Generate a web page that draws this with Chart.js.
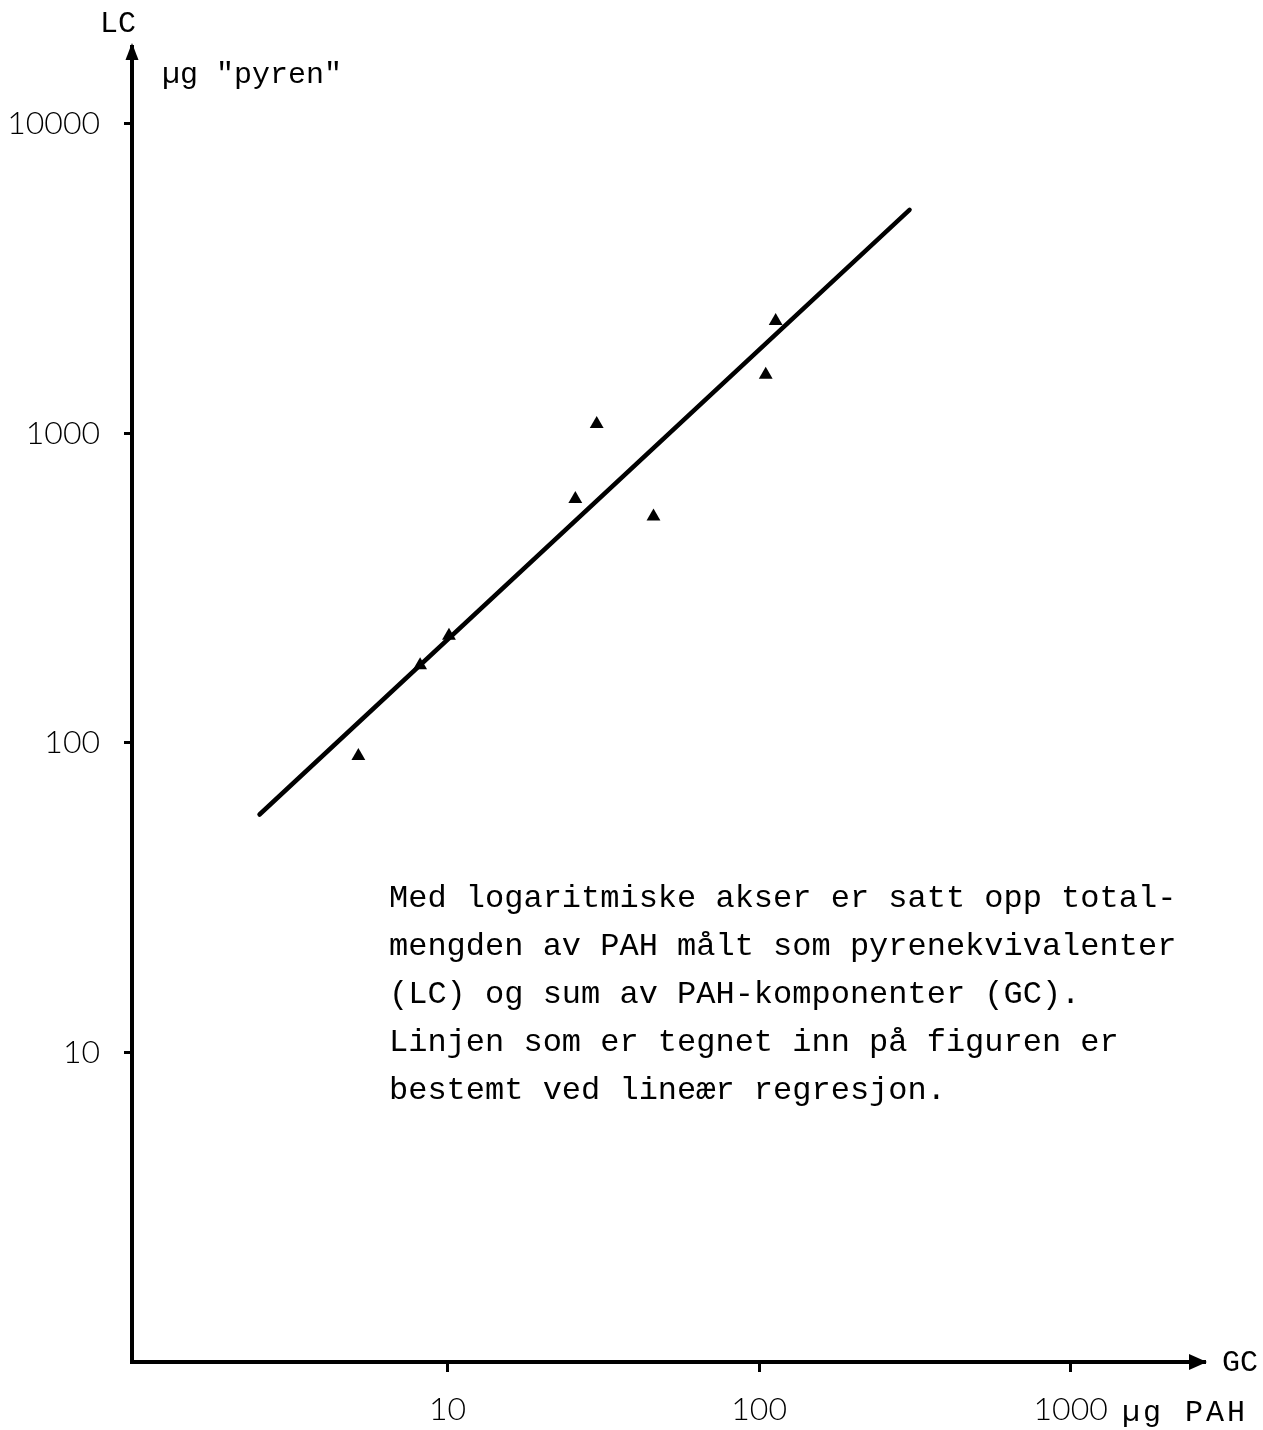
<!DOCTYPE html>
<html>
<head>
<meta charset="utf-8">
<title>LC mot GC</title>
<script src="https://cdn.jsdelivr.net/npm/chart.js@4.4.1/dist/chart.umd.min.js"></script>
<style>
  html, body { margin: 0; padding: 0; background: #fff; }
  #wrap { width: 1263px; height: 1430px; }
</style>
</head>
<body>
<div id="wrap"><canvas id="c" width="1263" height="1430"></canvas></div>
<script>
// Sum of PAH components by GC (µg PAH) and PAH as pyrene equivalents by LC (µg "pyren")
const gcValues = [5.17, 8.16, 10.1, 25.7, 30.1, 45.8, 105, 113];
const lcValues = [90.7, 178, 222, 613, 1071, 539, 1546, 2308];

// End points of the linear regression line (log-log)
const fitGc = [2.49, 304];
const fitLc = [58.7, 5272];

// Tick labels on the two logarithmic axes
const xTicks = [10, 100, 1000];
const yTicks = [10, 100, 1000, 10000];

// Caption block
const noteLines = [
  'Med logaritmiske akser er satt opp total-',
  'mengden av PAH målt som pyrenekvivalenter',
  '(LC) og sum av PAH-komponenter (GC).',
  'Linjen som er tegnet inn på figuren er',
  'bestemt ved lineær regresjon.'
];

const INK = '#000';
const MONO = '"Liberation Mono", "DejaVu Sans Mono", monospace';
const SANS = 'Lato, "DejaVu Sans", "Liberation Sans", sans-serif';

const points = gcValues.map((g, i) => ({ x: g, y: lcValues[i] }));
const fit = fitGc.map((g, i) => ({ x: g, y: fitLc[i] }));

// Arrowheads on the axes plus the typed labels and caption
const annotations = {
  id: 'annotations',
  afterDraw(chart) {
    const { ctx, chartArea: a } = chart;
    ctx.save();
    ctx.fillStyle = INK;

    ctx.beginPath();
    ctx.moveTo(a.left, a.top - 4);
    ctx.lineTo(a.left - 6.5, a.top + 13);
    ctx.lineTo(a.left + 6.5, a.top + 13);
    ctx.closePath();
    ctx.fill();

    ctx.beginPath();
    ctx.moveTo(a.right + 2, a.bottom);
    ctx.lineTo(a.right - 16, a.bottom - 8);
    ctx.lineTo(a.right - 16, a.bottom + 8);
    ctx.closePath();
    ctx.fill();

    ctx.textAlign = 'left';
    ctx.textBaseline = 'alphabetic';
    ctx.font = '30px ' + MONO;
    ctx.fillText('LC', 100, 32);
    ctx.fillText('µg "pyren"', 162, 83);
    ctx.fillText('GC', 1222, 1371);
    ctx.letterSpacing = '3px';
    ctx.fillText('µg PAH', 1122, 1421);
    ctx.letterSpacing = '0px';

    ctx.font = '32px ' + MONO;
    noteLines.forEach((t, i) => ctx.fillText(t, 389, 907 + i * 48));
    ctx.restore();
  }
};

const axisCommon = {
  type: 'logarithmic',
  border: { display: true, color: INK, width: 4 },
  grid: {
    display: true,
    drawOnChartArea: false,
    drawTicks: true,
    tickWidth: 3,
    tickColor: INK
  },
  ticks: {
    color: INK,
    font: { family: SANS, size: 32, weight: 300 },
    autoSkip: false,
    maxRotation: 0,
    callback: v => String(v)
  }
};

new Chart(document.getElementById('c'), {
  type: 'scatter',
  data: {
    datasets: [
      {
        label: 'regresjon',
        data: fit,
        showLine: true,
        borderColor: INK,
        borderWidth: 4.5,
        borderCapStyle: 'round',
        pointRadius: 0,
        tension: 0
      },
      {
        label: 'prøver',
        data: points,
        pointStyle: 'triangle',
        pointRadius: 8,
        backgroundColor: INK,
        borderWidth: 0
      }
    ]
  },
  options: {
    responsive: false,
    devicePixelRatio: 1,
    animation: false,
    layout: { padding: { top: 47, right: 58, left: 0, bottom: 0 } },
    plugins: { legend: { display: false }, tooltip: { enabled: false } },
    scales: {
      x: {
        ...axisCommon,
        min: 0.97,
        max: 2700,
        afterBuildTicks: s => { s.ticks = xTicks.map(v => ({ value: v })); },
        afterFit: s => { s.height = 68; },
        grid: { ...axisCommon.grid, tickLength: 10 },
        ticks: { ...axisCommon.ticks, padding: 18 }
      },
      y: {
        ...axisCommon,
        min: 1,
        max: 17700,
        afterBuildTicks: s => { s.ticks = yTicks.map(v => ({ value: v })); },
        afterFit: s => { s.width = 132; },
        grid: { ...axisCommon.grid, tickLength: 8 },
        ticks: { ...axisCommon.ticks, padding: 24 }
      }
    }
  },
  plugins: [annotations]
});
</script>
</body>
</html>
